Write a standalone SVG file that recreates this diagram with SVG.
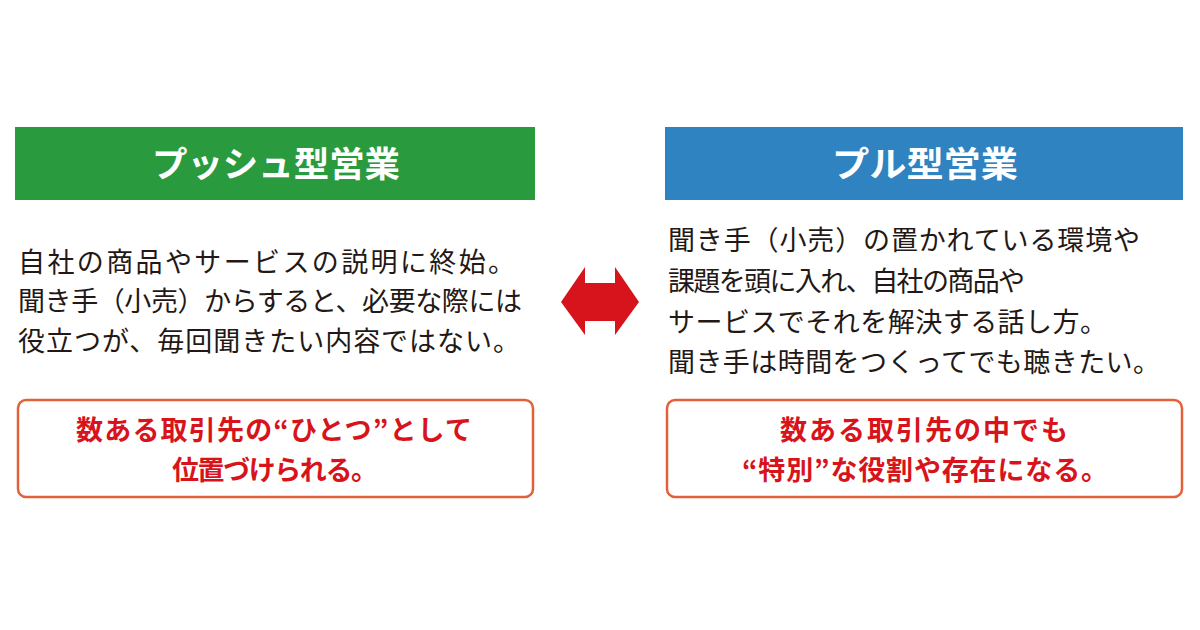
<svg xmlns="http://www.w3.org/2000/svg" width="1200" height="630" viewBox="0 0 1200 630">
<style>
.h{font-family:"Noto Sans CJK JP",sans-serif;font-weight:bold;font-size:35px;fill:#fff;text-anchor:middle}
.b{font-family:"Noto Sans CJK JP",sans-serif;font-size:27px;fill:#231815}
.r{font-family:"Noto Sans CJK JP",sans-serif;font-weight:bold;font-size:27px;fill:#d7141b;text-anchor:middle}
.bx{fill:#fff;stroke:#e2603a;stroke-width:2.5}
</style>
<rect width="1200" height="630" fill="#fff"/>
<g id="push">
<rect x="15" y="127" width="520" height="73" fill="#2a9a3f"/>
<text class="h" x="276" y="177" textLength="248" lengthAdjust="spacingAndGlyphs">プッシュ型営業</text>
<text class="b" x="18" y="272" textLength="497">自社の商品やサービスの説明に終始。</text>
<text class="b" x="18" y="311" textLength="504">聞き手（小売）からすると、必要な際には</text>
<text class="b" x="18" y="351" textLength="502">役立つが、毎回聞きたい内容ではない。</text>
</g>
<g id="push-note">
<rect class="bx" x="18" y="400" width="515" height="97" rx="8"/>
<text class="r" x="274" y="440" textLength="396">数ある取引先の“ひとつ”として</text>
<text class="r" x="275" y="480" textLength="206">位置づけられる。</text>
</g>
<g id="pull">
<rect x="665" y="127" width="518" height="73" fill="#2f83c0"/>
<text class="h" x="925" y="177" textLength="186" lengthAdjust="spacingAndGlyphs">プル型営業</text>
<text class="b" x="668" y="250" textLength="472">聞き手（小売）の置かれている環境や</text>
<text class="b" x="668" y="291" textLength="357">課題を頭に入れ、自社の商品や</text>
<text class="b" x="668" y="332" textLength="439">サービスでそれを解決する話し方。</text>
<text class="b" x="668" y="372" textLength="492">聞き手は時間をつくってでも聴きたい。</text>
</g>
<g id="pull-note">
<rect class="bx" x="667" y="400" width="515" height="97" rx="8"/>
<text class="r" x="924" y="440" textLength="288">数ある取引先の中でも</text>
<text class="r" x="925" y="480" textLength="366">“特別”な役割や存在になる。</text>
</g>
<g id="connectors">
<polygon points="561,302 585,267 585,283 615,283 615,267 639,302 615,335 615,321 585,321 585,335" fill="#d7141b"/>
</g>
</svg>
